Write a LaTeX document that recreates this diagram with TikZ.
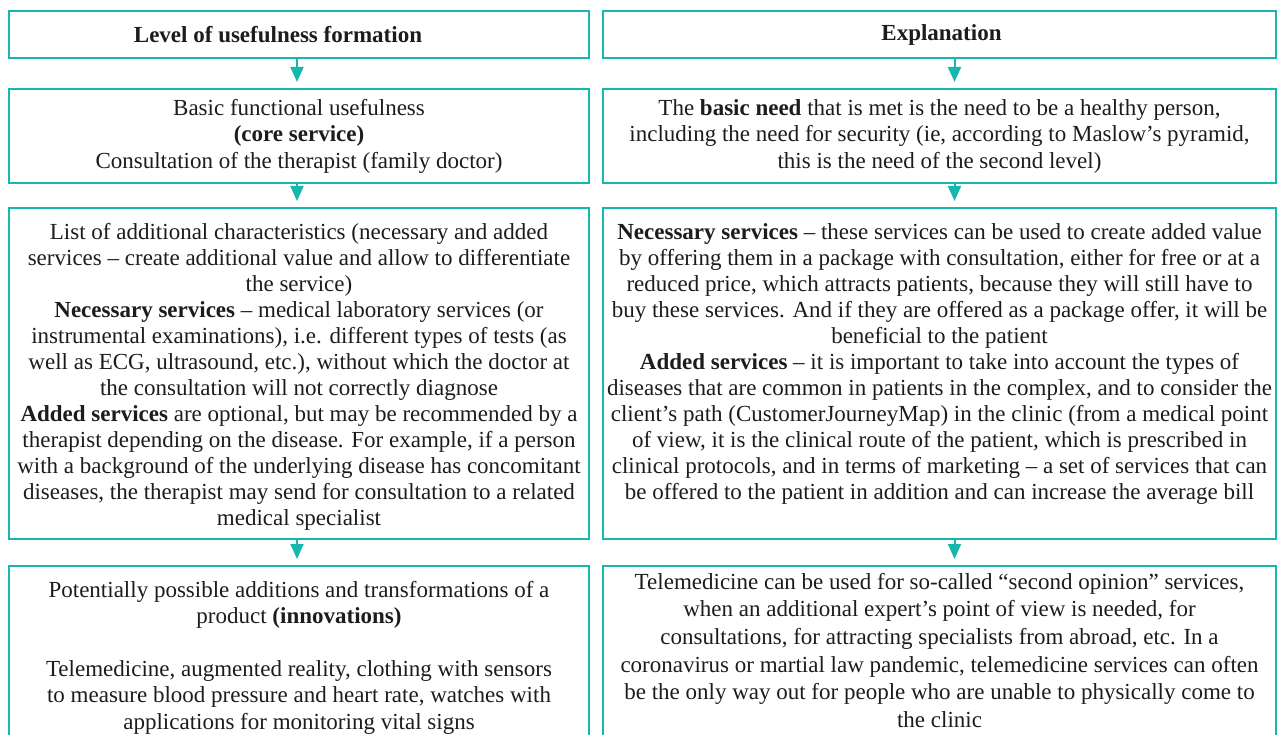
\documentclass[tikz,border=0pt]{standalone}
\usepackage{fontspec}
\setmainfont{Liberation Serif}
\usetikzlibrary{arrows.meta,positioning}
\definecolor{cellteal}{HTML}{16B7AE}
\definecolor{textgray}{HTML}{1C1C1C}
\tikzset{
  cell/.style={draw=cellteal, line width=2pt, inner sep=0pt, anchor=north west},
  celltext/.style={align=center, text=textgray, inner sep=0pt,
    font=\fontsize{23}{26.5}\selectfont},
  flow/.style={-{Triangle[width=13pt,length=15pt]}, draw=cellteal,
    line width=2pt, shorten >=6pt},
}
\begin{document}
\begin{tikzpicture}[x=1pt,y=-1pt]
\useasboundingbox (0,0) rectangle (1277,735);
\clip (0,0) rectangle (1277,735);
% boxes, left column
\node[cell, minimum width=580pt, minimum height=47pt] (lhead) at (8,10) {};
\node[cell, minimum width=580pt, minimum height=94pt] (lbasic) at (8,88) {};
\node[cell, minimum width=580pt, minimum height=331pt] (lextra) at (8,207) {};
\node[cell, minimum width=580pt, minimum height=215pt] (linnov) at (8,565) {};
% boxes, right column
\node[cell, minimum width=673pt, minimum height=47pt] (rhead) at (602,10) {};
\node[cell, minimum width=673pt, minimum height=94pt] (rbasic) at (602,88) {};
\node[cell, minimum width=673pt, minimum height=331pt] (rextra) at (602,207) {};
\node[cell, minimum width=673pt, minimum height=215pt] (rinnov) at (602,565) {};
% texts
\node[celltext, font=\fontsize{23}{26.5}\selectfont\bfseries] (lheadtxt) at ([xshift=-21pt]lhead.center) {Level of usefulness formation};
\node[celltext, font=\fontsize{23}{26.5}\selectfont\bfseries] (rheadtxt) at ([xshift=2pt]rhead.center) {Explanation};
\node[celltext] (lbasictxt) at (lbasic.center) {Basic functional usefulness\\
\textbf{(core service)}\\
Consultation of the therapist (family doctor)};
\node[celltext] (rbasictxt) at (rbasic.center) {The \textbf{basic need} that is met is the need to be a healthy person,\\
including the need for security (ie, according to Maslow’s pyramid,\\
this is the need of the second level)};
\node[celltext, font=\fontsize{23}{26}\selectfont, anchor=north] (lextratxt) at ([yshift=-16pt]lextra.north) {List of additional characteristics (necessary and added\\
services – create additional value and allow to differentiate\\
the service)\\
\textbf{Necessary services} – medical laboratory services (or\\
instrumental examinations), i.e. different types of tests (as\\
well as ECG, ultrasound, etc.), without which the doctor at\\
the consultation will not correctly diagnose\\
\textbf{Added services} are optional, but may be recommended by a\\
therapist depending on the disease. For example, if a person\\
with a background of the underlying disease has concomitant\\
diseases, the therapist may send for consultation to a related\\
medical specialist};
\node[celltext, font=\fontsize{23}{26}\selectfont, anchor=north] (rextratxt) at ([yshift=-16pt]rextra.north) {\textbf{Necessary services} – these services can be used to create added value\\
by offering them in a package with consultation, either for free or at a\\
reduced price, which attracts patients, because they will still have to\\
buy these services. And if they are offered as a package offer, it will be\\
beneficial to the patient\\
\textbf{Added services} – it is important to take into account the types of\\
diseases that are common in patients in the complex, and to consider the\\
client’s path (CustomerJourneyMap) in the clinic (from a medical point\\
of view, it is the clinical route of the patient, which is prescribed in\\
clinical protocols, and in terms of marketing – a set of services that can\\
be offered to the patient in addition and can increase the average bill};
\node[celltext, anchor=north] (linnovtxt) at ([yshift=-16pt]linnov.north) {Potentially possible additions and transformations of a\\
product \textbf{(innovations)}\\[26pt]
Telemedicine, augmented reality, clothing with sensors\\
to measure blood pressure and heart rate, watches with\\
applications for monitoring vital signs};
\node[celltext, font=\fontsize{23}{27.6}\selectfont, anchor=north] (rinnovtxt) at ([yshift=-8pt]rinnov.north) {Telemedicine can be used for so-called “second opinion” services,\\
when an additional expert’s point of view is needed, for\\
consultations, for attracting specialists from abroad, etc. In a\\
coronavirus or martial law pandemic, telemedicine services can often\\
be the only way out for people who are unable to physically come to\\
the clinic};
% arrows
\draw[flow] ([xshift=-2pt]lhead.south) -- ([xshift=-2pt]lbasic.north);
\draw[flow] ([xshift=-2pt]lbasic.south) -- ([xshift=-2pt]lextra.north);
\draw[flow] ([xshift=-2pt]lextra.south) -- ([xshift=-2pt]linnov.north);
\draw[flow] ([xshift=15pt]rhead.south) -- ([xshift=15pt]rbasic.north);
\draw[flow] ([xshift=15pt]rbasic.south) -- ([xshift=15pt]rextra.north);
\draw[flow] ([xshift=15pt]rextra.south) -- ([xshift=15pt]rinnov.north);
\end{tikzpicture}
\end{document}
